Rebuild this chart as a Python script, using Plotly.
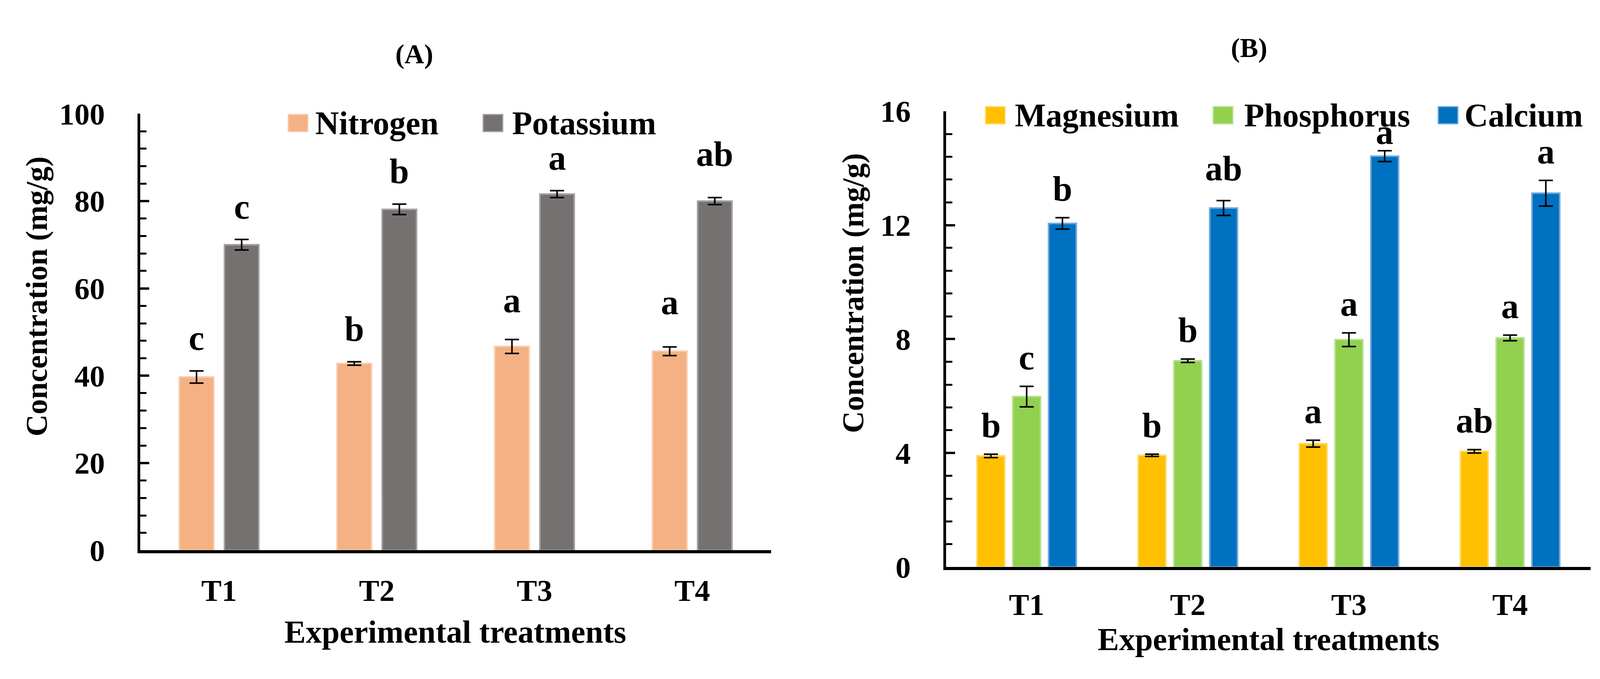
import plotly.graph_objects as go

# ---------------- data ----------------
treatments = ["T1", "T2", "T3", "T4"]

nitrogen = [39.7, 42.8, 46.7, 45.6]
nitrogen_err = [1.4, 0.4, 1.6, 1.0]
nitrogen_letters = ["c", "b", "a", "a"]

potassium = [70.0, 78.1, 81.6, 80.0]
potassium_err = [1.2, 1.2, 0.8, 0.8]
potassium_letters = ["c", "b", "a", "ab"]

magnesium = [3.90, 3.92, 4.33, 4.06]
magnesium_err = [0.06, 0.04, 0.12, 0.06]
magnesium_letters = ["b", "b", "a", "ab"]

phosphorus = [5.98, 7.24, 7.98, 8.04]
phosphorus_err = [0.36, 0.06, 0.24, 0.10]
phosphorus_letters = ["c", "b", "a", "a"]

calcium = [12.06, 12.60, 14.42, 13.12]
calcium_err = [0.20, 0.26, 0.19, 0.45]
calcium_letters = ["b", "ab", "a", "a"]

y_ticks_a = [0, 20, 40, 60, 80, 100]
y_ticks_b = [0, 4, 8, 12, 16]

# ---------------- style ----------------
W, H = 4106, 1739
FONT = "Liberation Serif"

def fx(p):
    return p / W

def fy(p):
    return 1 - p / H

# extra pixel nudges for a few significance letters (label placement style)
letter_nudge = {("Potassium", 3): 28, ("Nitrogen", 2): 16, ("Nitrogen", 3): 30,
                ("Calcium", 1): 8, ("Calcium", 2): -26}

panels = [
    dict(x="x", y="y", width=0.218, centers=[-0.143, 0.143],
         series=[("Nitrogen", nitrogen, nitrogen_err, nitrogen_letters, "#F4B183", "#F8CBAD"),
                 ("Potassium", potassium, potassium_err, potassium_letters, "#767171", "#A5A2A2")],
         letter_shift=84, label_standoff=28),
    dict(x="x2", y="y2", width=0.172, centers=[-0.222, 0.0, 0.222],
         series=[("Magnesium", magnesium, magnesium_err, magnesium_letters, "#FFC000", "#FFD966"),
                 ("Phosphorus", phosphorus, phosphorus_err, phosphorus_letters, "#92D050", "#B5E08A"),
                 ("Calcium", calcium, calcium_err, calcium_letters, "#0070C0", "#6FA8DC")],
         letter_shift=74, label_standoff=21),
]

fig = go.Figure()
annotations = []
shapes = []

for p in panels:
    for (name, vals, errs, letters, color, edge), c in zip(p["series"], p["centers"]):
        fig.add_trace(go.Bar(
            x=treatments, y=vals, name=name,
            width=p["width"], offset=c - p["width"] / 2,
            marker=dict(color=color, line=dict(color=edge, width=4)),
            error_y=dict(type="data", array=errs, visible=True,
                         color="black", thickness=4, width=18),
            xaxis=p["x"], yaxis=p["y"], showlegend=False,
        ))
        for i, (v, e, lt) in enumerate(zip(vals, errs, letters)):
            annotations.append(dict(
                x=i + c, y=v + e, xref=p["x"], yref=p["y"], text=lt,
                showarrow=False, yanchor="middle",
                yshift=p["letter_shift"] + letter_nudge.get((name, i), 0),
                font=dict(family=FONT, size=90, color="black", weight="bold"),
            ))

# ---------- custom legends (large swatches) ----------
legend_specs = [
    (panels[0]["series"], [730, 1229], [797, 1301], 278),
    (panels[1]["series"], [2515, 3098, 3674], [2588, 3175, 3739], 257),
]
SW, SH = 50, 46
for series, sw_left, txt_left, cy in legend_specs:
    for (name, _v, _e, _l, color, edge), sl, tl in zip(series, sw_left, txt_left):
        shapes.append(dict(type="rect", xref="paper", yref="paper",
                           x0=fx(sl), x1=fx(sl + SW), y0=fy(cy + SH / 2), y1=fy(cy - SH / 2),
                           fillcolor=color, line=dict(color=edge, width=3)))
        annotations.append(dict(x=fx(tl), y=fy(cy), xref="paper", yref="paper",
                                text=name, showarrow=False, xanchor="left", yanchor="middle",
                                font=dict(family=FONT, size=84, color="black", weight="bold")))

# ---------- titles ----------
for txt, cx, cy in [("(A)", 1052, 92), ("(B)", 3189, 75)]:
    annotations.append(dict(x=fx(cx), y=fy(cy), xref="paper", yref="paper", text=txt,
                            showarrow=False, xanchor="center", yanchor="middle",
                            font=dict(family=FONT, size=70, color="black", weight="bold")))

for cx, cy in [(1157, 1650), (3239, 1670)]:
    annotations.append(dict(x=fx(cx), y=fy(cy), xref="paper", yref="paper",
                            text="Experimental treatments", showarrow=False,
                            xanchor="center", yanchor="middle",
                            font=dict(family=FONT, size=82, color="black", weight="bold")))

for cx, cy in [(86, 746), (2175, 737)]:
    annotations.append(dict(x=fx(cx), y=fy(cy), xref="paper", yref="paper",
                            text="Concentration (mg/g)", showarrow=False, textangle=-90,
                            xanchor="center", yanchor="middle",
                            font=dict(family=FONT, size=78, color="black", weight="bold")))

# soft gray shadows along the axis lines
for ya, xa in [("y", "x"), ("y2", "x2")]:
    shapes.append(dict(type="rect", xref=f"{xa} domain", yref=ya, ysizemode="pixel",
                       yanchor=0, x0=0, x1=1, y0=-7, y1=-13,
                       fillcolor="#9E9E9E", line=dict(width=0), layer="above"))
    shapes.append(dict(type="rect", xref=xa, yref=f"{ya} domain", xsizemode="pixel",
                       xanchor=-0.5, x0=-8, x1=-11, y0=0, y1=1,
                       fillcolor="#8C8C8C", line=dict(width=0), layer="above"))

tick_font = dict(family=FONT, size=78, color="black", weight="bold")

def yaxis_cfg(domain, rng, tickvals, minor_dtick, anchor):
    return dict(domain=domain, range=rng, tickvals=tickvals, anchor=anchor,
                showline=True, linecolor="black", linewidth=7,
                ticks="inside", ticklen=23, tickwidth=6, tickcolor="black",
                minor=dict(ticks="inside", ticklen=16, tickwidth=5, tickcolor="black",
                           dtick=minor_dtick),
                showgrid=False, zeroline=False, tickfont=tick_font,
                ticklabelstandoff=68, fixedrange=True)

def xaxis_cfg(domain, anchor, standoff):
    return dict(domain=domain, anchor=anchor, type="category", range=[-0.5, 3.5],
                showline=True, linecolor="black", linewidth=8, ticks="",
                showgrid=False, zeroline=False, tickfont=tick_font,
                ticklabelstandoff=standoff, fixedrange=True)

fig.update_layout(
    width=W, height=H,
    margin=dict(l=0, r=0, t=0, b=0),
    paper_bgcolor="white", plot_bgcolor="white",
    barmode="overlay",
    xaxis=xaxis_cfg([fx(351), fx(1966)], "y", panels[0]["label_standoff"]),
    yaxis=yaxis_cfg([fy(1430), fy(253)], [0, 100], y_ticks_a, 4, "x"),
    xaxis2=xaxis_cfg([fx(2414), fx(4064)], "y2", panels[1]["label_standoff"]),
    yaxis2=yaxis_cfg([fy(1475), fy(246)], [0, 16], y_ticks_b, 0.8, "x2"),
    annotations=annotations,
    shapes=shapes,
    showlegend=False,
)

fig.write_html("out.html")
